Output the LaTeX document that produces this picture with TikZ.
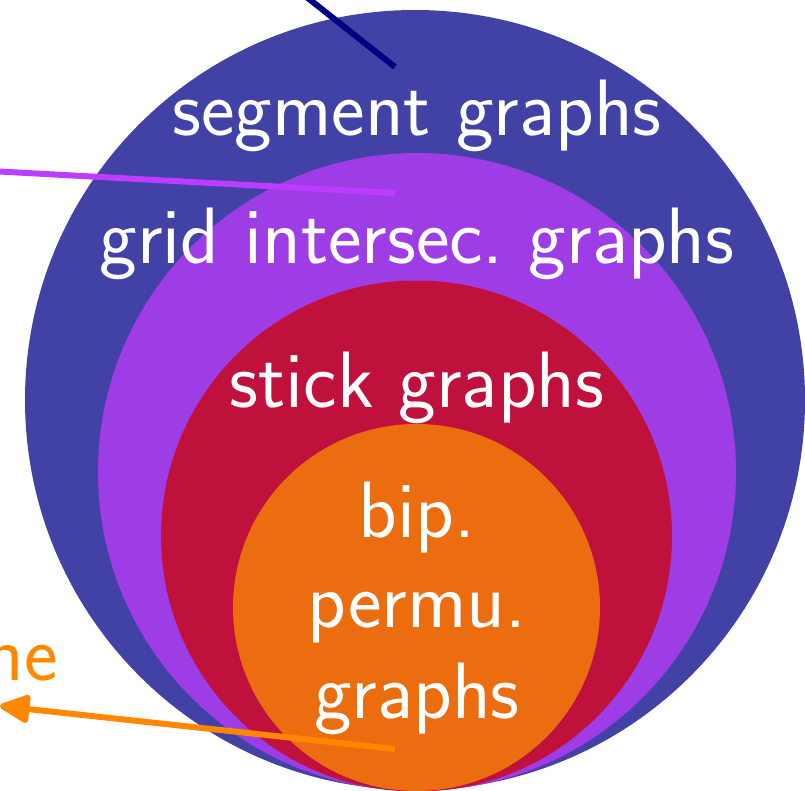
\documentclass[tikz,border=0pt]{standalone}
\usetikzlibrary{arrows.meta}
\definecolor{cblue}{RGB}{66,65,166}
\definecolor{cpurple}{RGB}{158,60,230}
\definecolor{cred}{RGB}{192,16,60}
\definecolor{corange}{RGB}{236,108,16}
\definecolor{lnavy}{RGB}{0,0,130}
\definecolor{lmagenta}{RGB}{190,60,255}
\definecolor{larrow}{RGB}{255,136,0}
\begin{document}
\begin{tikzpicture}[x=1pt,y=-1pt,
  lbl/.style={text=white,font=\sffamily\fontsize{80}{90}\selectfont,anchor=base,inner sep=0pt},
  conn/.style={line width=6pt}]
\useasboundingbox (0,0) rectangle (805,790);
\begin{scope}
\clip (0,0) rectangle (805,790);
\fill[cblue] (415,400) circle (390pt);
\fill[cpurple] (417,472) circle (319pt);
\fill[cred] (416.5,536) circle (255.5pt);
\fill[corange] (416.5,607.5) circle (183.5pt);
\node[lbl] (seg) at (417,135) {segment graphs};
\node[lbl] (grid) at (417,263) {grid intersec.\ graphs};
\node[lbl] (stick) at (417,407) {stick graphs};
\node[lbl] (bip) at (417,537) {bip.};
\node[lbl] (permu) at (417,627) {permu.};
\node[lbl] (bpg) at (417,718) {graphs};
\node[text=larrow,font=\sffamily\fontsize{80}{90}\selectfont,anchor=base east,inner sep=0pt] (ne) at (58,680) {ne};
\coordinate (a1) at (395,67);
\coordinate (a2) at (280,-24);
\coordinate (b1) at (395,193);
\coordinate (b2) at (-10,171);
\coordinate (c1) at (395,749);
\coordinate (c2) at (0,706);
\draw[conn,lnavy] (a1) -- (a2);
\draw[conn,lmagenta] (b1) -- (b2);
\draw[conn,larrow,-{Triangle[round,length=34pt,width=30pt]}] (c1) -- (c2);
\end{scope}
\end{tikzpicture}
\end{document}
